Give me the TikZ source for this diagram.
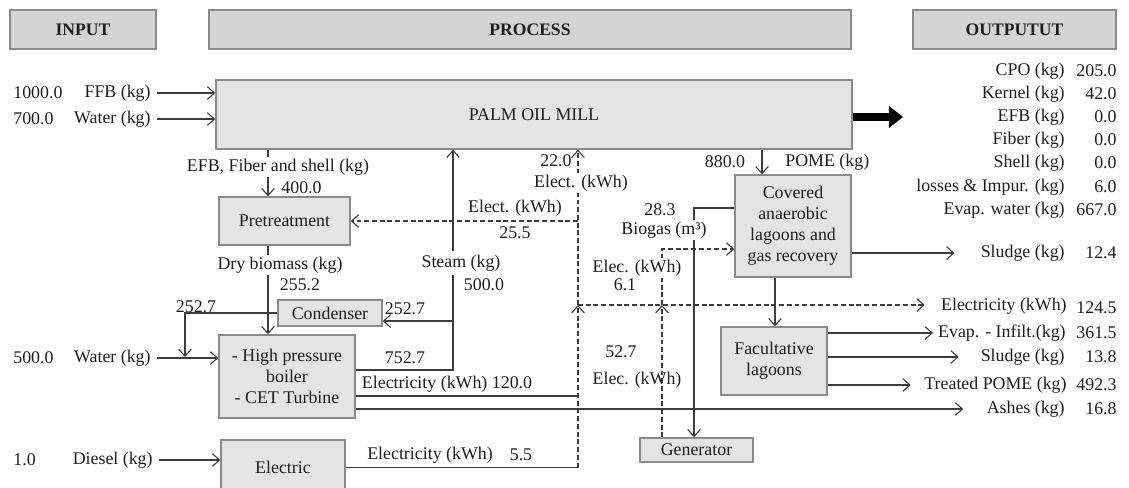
\documentclass[tikz,border=0pt]{standalone}
\usepackage{fontspec}
\setmainfont{Liberation Serif}
\usetikzlibrary{arrows.meta, positioning, calc, backgrounds}
\definecolor{hdrgray}{HTML}{D4D4D4}
\definecolor{boxgray}{HTML}{E4E4E4}
\definecolor{edgegray}{HTML}{8A8A8A}
\definecolor{linegray}{HTML}{3C3C3C}
\definecolor{inkgray}{HTML}{1E1E1E}
\tikzset{
  hbox/.style={rectangle, draw=edgegray, fill=hdrgray, line width=1pt,
               minimum width=#1, minimum height=0.975cm,
               font=\fontsize{12.5}{15}\selectfont\bfseries, text=inkgray},
  pbox/.style={rectangle, draw=edgegray, fill=boxgray, line width=1pt,
               align=center, text=inkgray, inner sep=1pt},
  lbl/.style={inner sep=1.5pt, text=inkgray},
  lblw/.style={lbl, fill=white},
  arr/.style={-{Straight Barb[length=5pt,width=9pt]}, line width=0.8pt, draw=linegray},
  ln/.style={line width=0.8pt, draw=linegray},
  dsh/.style={dash pattern=on 3.5pt off 2pt},
  bigarr/.style={-{Triangle[length=10pt,width=15pt]}, line width=6pt, draw=black},
}

\begin{document}
\begin{tikzpicture}[x=0.025cm, y=-0.025cm, font=\fontsize{12.7}{15}\selectfont]
  \useasboundingbox (0,0) rectangle (1129,487);

  % HEADERS
  \node[hbox=3.65cm] (hin) at (83,29.5) {INPUT};
  \node[hbox=16.05cm] (hproc) at (530,29.5) {PROCESS};
  \node[hbox=5.075cm] (hout) at (1014.5,29.5) {OUTPUTUT};

  % PROCESS UNITS
  \node[pbox, minimum width=15.9cm, minimum height=1.725cm] (mill) at (534,114.5) {PALM OIL MILL};
  \node[pbox, minimum width=3.275cm, minimum height=1.2cm] (pre) at (284.5,221) {Pretreatment};
  \node[pbox, minimum width=2.6cm, minimum height=0.65cm] (cond) at (330,313) {Condenser};
  \node[pbox, minimum width=3.4cm, minimum height=2.075cm] (boiler) at (287,376.5)
    {- High pressure\\boiler\\- CET Turbine};
  \node[pbox, minimum width=3.1cm, minimum height=1.375cm] (elec) at (283,467.5) {Electric};
  \node[pbox, minimum width=2.9cm, minimum height=2.55cm] (cov) at (793,226)
    {Covered\\anaerobic\\lagoons and\\gas recovery};
  \node[pbox, minimum width=2.65cm, minimum height=1.7cm] (fac) at (774,361) {Facultative\\lagoons};
  \node[pbox, minimum width=2.825cm, minimum height=0.6cm] (gen) at (696.5,450) {Generator};

  % INPUTS
  \node[lbl, anchor=west] (ffbv) at (11,93) {1000.0};
  \node[lbl, anchor=east] (ffbl) at (153,93) {FFB (kg)};
  \node[lbl, anchor=west] (watv) at (11,119) {700.0};
  \node[lbl, anchor=east] (watl) at (153,119) {Water (kg)};
  \node[lbl, anchor=west] (bwatv) at (11,358) {500.0};
  \node[lbl, anchor=east] (bwatl) at (153,358) {Water (kg)};
  \node[lbl, anchor=west] (dslv) at (11,460) {1.0};
  \node[lbl, anchor=east] (dsll) at (155,460) {Diesel (kg)};

  % OUTPUTS
  \node[lbl, anchor=east] (cpol) at (1067,71) {CPO (kg)};
  \node[lbl, anchor=east] (kerl) at (1067,94) {Kernel (kg)};
  \node[lbl, anchor=east] (efbo) at (1067,117) {EFB (kg)};
  \node[lbl, anchor=east] (fibl) at (1067,140) {Fiber (kg)};
  \node[lbl, anchor=east] (shll) at (1067,163) {Shell (kg)};
  \node[lbl, anchor=east] (losl) at (1067,187) {losses \& Impur. (kg)};
  \node[lbl, anchor=east] (evwl) at (1067,210) {Evap. water (kg)};
  \node[lbl, anchor=east] (sl1l) at (1067,253) {Sludge (kg)};
  \node[lbl, anchor=east] (elo) at (1069,306) {Electricity (kWh)};
  \node[lbl, anchor=east] (evil) at (1068,333) {Evap. - Infilt.(kg)};
  \node[lbl, anchor=east] (sl2l) at (1067,357) {Sludge (kg)};
  \node[lbl, anchor=east] (tpol) at (1069,385) {Treated POME (kg)};
  \node[lbl, anchor=east] (ashl) at (1067,409) {Ashes (kg)};
  \node[lbl, anchor=east] (cpov) at (1119,71) {205.0};
  \node[lbl, anchor=east] (kerv) at (1119,94) {42.0};
  \node[lbl, anchor=east] (efbov) at (1119,117) {0.0};
  \node[lbl, anchor=east] (fibv) at (1119,140) {0.0};
  \node[lbl, anchor=east] (shlv) at (1119,163) {0.0};
  \node[lbl, anchor=east] (losv) at (1119,187) {6.0};
  \node[lbl, anchor=east] (evwv) at (1119,210) {667.0};
  \node[lbl, anchor=east] (sl1v) at (1119,253) {12.4};
  \node[lbl, anchor=east] (elov) at (1119,308) {124.5};
  \node[lbl, anchor=east] (eviv) at (1119,333) {361.5};
  \node[lbl, anchor=east] (sl2v) at (1119,357) {13.8};
  \node[lbl, anchor=east] (tpov) at (1119,385) {492.3};
  \node[lbl, anchor=east] (ashv) at (1119,409) {16.8};

  % STREAM LABELS
  \node[lblw] (efbl) at (278,167) {EFB, Fiber and shell (kg)};
  \node[lbl, anchor=west] (efbv) at (279,188) {400.0};
  \node[lbl] (prel) at (515,208) {Elect. (kWh)};
  \node[lbl] (prev) at (515,233) {25.5};
  \node[lbl] (millev) at (556,161) {22.0};
  \node[lblw] (millel) at (581,183) {Elect. (kWh)};
  \node[lbl] (pomev) at (725,162) {880.0};
  \node[lbl, anchor=west] (pomel) at (783,162) {POME (kg)};
  \node[lbl] (bgv) at (660,210) {28.3};
  \node[lblw] (bgl) at (664,230) {Biogas (m³)};
  \node[lblw] (dryl) at (280,265) {Dry biomass (kg)};
  \node[lbl] (dryv) at (300,285) {255.2};
  \node[lblw, inner sep=3pt] (stml) at (461,263) {Steam (kg)};
  \node[lbl] (stmv) at (484,285) {500.0};
  \node[lbl] (retv) at (196,307) {252.7};
  \node[lbl] (condv) at (405,309) {252.7};
  \node[lblw] (cvel) at (637,268) {Elec. (kWh)};
  \node[lbl] (cvev) at (625,285) {6.1};
  \node[lbl] (blrv) at (405,358) {752.7};
  \node[lbl] (genv) at (621,352) {52.7};
  \node[lbl] (genl) at (637,380) {Elec. (kWh)};
  \node[lbl] (blrel) at (447,384) {Electricity (kWh) 120.0};
  \node[lbl] (dsel) at (430,455) {Electricity (kWh)};
  \node[lbl] (dsev) at (521,455) {5.5};

  \coordinate (millout) at (903,117);
  \coordinate (bcol) at (268,0);
  \coordinate (stj) at (453,370);
  \coordinate (cdj) at (453,321);
  \coordinate (wj) at (185,357);
  \coordinate (ej) at (578,396);
  \coordinate (ebus) at (578,305);
  \coordinate (gcol) at (662,0);
  \coordinate (gtop) at (662,249);
  \coordinate (pcol) at (762,0);
  \coordinate (bgj) at (694,208);
  \coordinate (fcol) at (775,0);

  \begin{scope}[on background layer]
    % FEED
    \draw[arr, shorten <=3pt] (ffbl.east) -- (ffbl.east -| mill.west);
    \draw[arr, shorten <=3pt] (watl.east) -- (watl.east -| mill.west);
    \draw[arr, shorten <=3pt] (bwatl.east) -- (bwatl.east -| boiler.west);
    \draw[arr, shorten <=3pt] (dsll.east) -- (dsll.east -| elec.west);
    \draw[bigarr] (mill.east |- millout) -- (millout);
    % BIOMASS
    \draw[arr] (mill.south -| bcol) -- (pre.north -| bcol);
    \draw[arr] (pre.south -| bcol) -- (boiler.north -| bcol);
    % STEAM
    \draw[arr] (boiler.east |- stj) -- (stj) -- (stj |- mill.south);
    \draw[arr] (cdj) -- (cdj -| cond.east);
    \draw[arr] (cond.west) -| (wj);
    % ELECTRICITY
    \draw[ln] (boiler.east |- ej) -- (ej);
    \draw[ln] (elec.east) -- (elec.east -| ebus);
    \draw[arr, dsh] (elec.east -| ebus) -- (ebus);
    \draw[arr, dsh] (ebus) -- (ebus |- mill.south);
    \draw[arr, dsh] (ebus |- pre.east) -- (pre.east);
    \draw[arr, dsh, shorten >=10pt] (ebus) -- (ebus -| elo.west);
    \draw[arr, dsh] (gen.north -| gcol) -- (gcol |- ebus);
    \draw[arr, dsh] (gcol |- ebus) -- (gtop) -- (gtop -| cov.west);
    % EFFLUENT
    \draw[arr] (mill.south -| pcol) -- (cov.north -| pcol);
    \draw[arr] (cov.west |- bgj) -- (bgj) -- (bgj |- gen.north);
    \draw[arr] (cov.south -| fcol) -- (fac.north -| fcol);
    \draw[arr, shorten >=17pt] (cov.east |- sl1l) -- (sl1l.west);
    \draw[arr, shorten >=2pt] (fac.east |- evil) -- (evil.west);
    \draw[arr, shorten >=14pt] (fac.east |- sl2l) -- (sl2l.west);
    \draw[arr, shorten >=8pt] (fac.east |- tpol) -- (tpol.west);
    \draw[arr, shorten >=15pt] (boiler.east |- ashl) -- (ashl.west);
  \end{scope}
\end{tikzpicture}
\end{document}
